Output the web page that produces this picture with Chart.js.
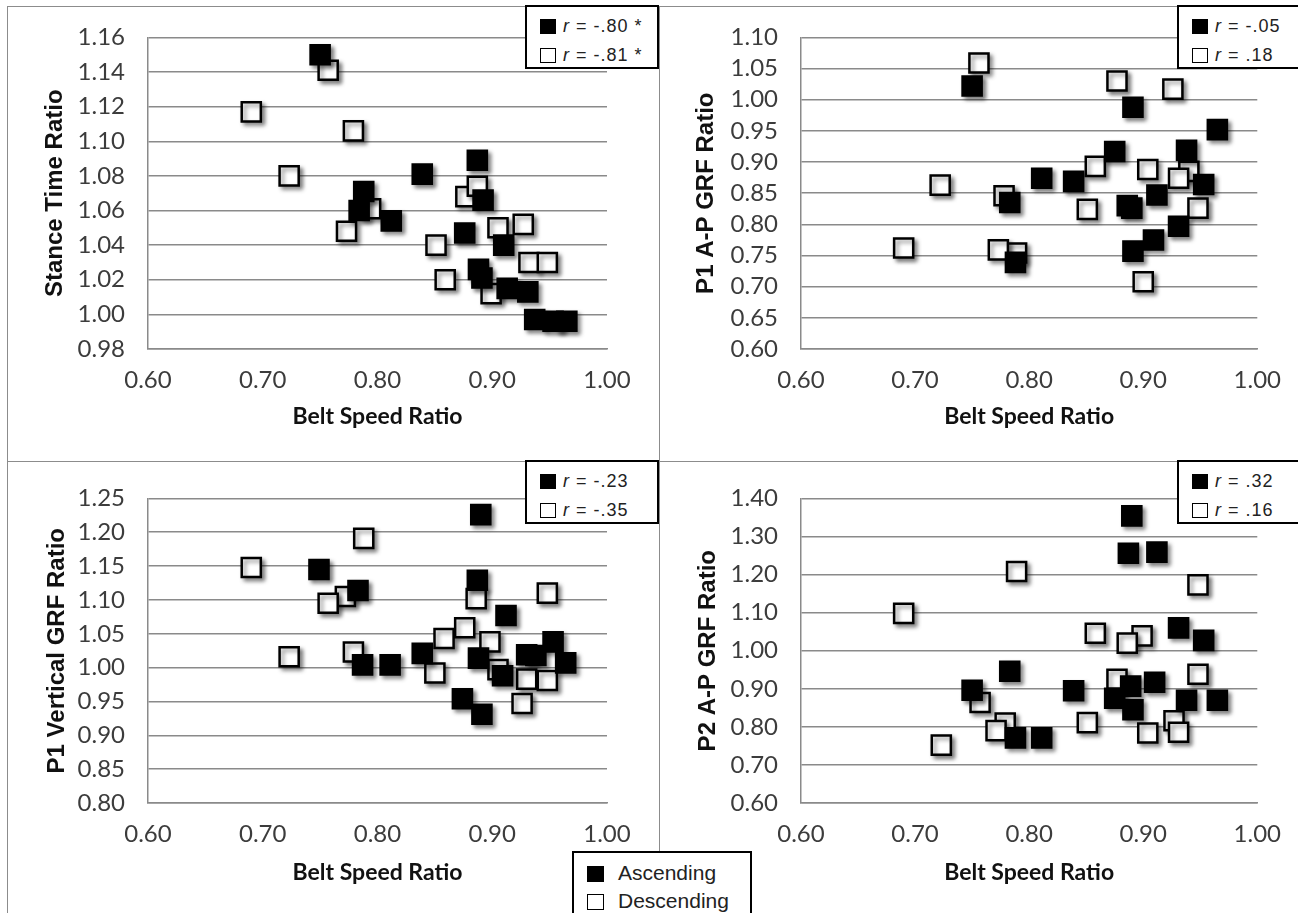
<!DOCTYPE html>
<html>
<head>
<meta charset="utf-8">
<title>Belt Speed Ratio</title>
<script src="https://cdn.jsdelivr.net/npm/chart.js@4.4.1/dist/chart.umd.min.js"></script>
<style>
    html, body { margin: 0; padding: 0; background: #fff; }
    #figure { position: relative; width: 1298px; height: 913px; overflow: hidden; background: #fff; }
    #figure canvas { position: absolute; }
    .rule { position: absolute; background: #8c8c8c; }
    .key {
        position: absolute; box-sizing: border-box; border: 2px solid #000; background: #fff;
        font-family: "Liberation Sans", Arial, sans-serif; color: #222;
    }
    .key .row { position: absolute; left: 13px; height: 22px; line-height: 22px; white-space: nowrap; }
    .key.small .row { font-size: 18px; letter-spacing: 1px; }
    .key.big .row { font-size: 21px; }
    .sw { display: inline-block; box-sizing: border-box; border: 1.5px solid #000; vertical-align: -2px; }
    .key.small .sw { width: 16px; height: 15px; margin-right: 7px; }
    .key.big .sw { width: 17px; height: 16px; margin-right: 14px; }
    .sw.fill { background: #000; }
    .sw.open { background: #fff; }
</style>
</head>
<body>
<div id="figure">
    <canvas id="stanceChart" width="659" height="461" style="left:0;top:0"></canvas>
    <canvas id="apOneChart" width="639" height="461" style="left:659px;top:0"></canvas>
    <canvas id="vertChart" width="659" height="452" style="left:0;top:461px"></canvas>
    <canvas id="apTwoChart" width="639" height="452" style="left:659px;top:461px"></canvas>

    <div class="rule" style="left:7px;top:6px;width:1291px;height:1px"></div>
    <div class="rule" style="left:7px;top:6px;width:1px;height:907px"></div>
    <div class="rule" style="left:659px;top:6px;width:1px;height:907px"></div>
    <div class="rule" style="left:7px;top:461px;width:1291px;height:1px"></div>
</div>

<script>
// ================= DATA =================
const seriesNames = ["Ascending", "Descending"];
const xTitle = "Belt Speed Ratio";
const xTicks = [0.60, 0.70, 0.80, 0.90, 1.00];

// Stance time
const stanceAscX  = [0.750, 0.788, 0.784, 0.812, 0.839, 0.887, 0.892, 0.876, 0.910, 0.888, 0.891, 0.913, 0.931, 0.937, 0.953, 0.965];
const stanceAscY  = [1.150, 1.071, 1.060, 1.054, 1.081, 1.089, 1.066, 1.047, 1.040, 1.026, 1.021, 1.015, 1.013, 0.997, 0.996, 0.996];
const stanceDescX = [0.690, 0.723, 0.757, 0.773, 0.779, 0.794, 0.851, 0.859, 0.877, 0.887, 0.899, 0.905, 0.927, 0.932, 0.948];
const stanceDescY = [1.117, 1.080, 1.141, 1.048, 1.106, 1.061, 1.040, 1.020, 1.068, 1.074, 1.012, 1.050, 1.052, 1.030, 1.030];
const stanceR = ["-.80 *", "-.81 *"];

// P1 A-P GRF
const apOneAscX  = [0.750, 0.891, 0.965, 0.875, 0.938, 0.811, 0.839, 0.953, 0.912, 0.886, 0.890, 0.783, 0.931, 0.909, 0.891, 0.788];
const apOneAscY  = [1.022, 0.988, 0.952, 0.917, 0.919, 0.874, 0.869, 0.864, 0.847, 0.830, 0.826, 0.835, 0.797, 0.775, 0.757, 0.739];
const apOneDescX = [0.690, 0.722, 0.756, 0.789, 0.773, 0.778, 0.851, 0.858, 0.877, 0.900, 0.904, 0.926, 0.940, 0.931, 0.948];
const apOneDescY = [0.762, 0.863, 1.059, 0.754, 0.759, 0.846, 0.824, 0.893, 1.030, 0.708, 0.888, 1.017, 0.885, 0.874, 0.826];
const apOneR = ["-.05", " .18"];

// P1 vertical GRF
const vertAscX  = [0.890, 0.749, 0.783, 0.887, 0.912, 0.839, 0.787, 0.811, 0.888, 0.909, 0.874, 0.891, 0.930, 0.938, 0.953, 0.964];
const vertAscY  = [1.226, 1.145, 1.114, 1.129, 1.077, 1.021, 1.004, 1.004, 1.014, 0.988, 0.954, 0.931, 1.019, 1.018, 1.038, 1.007];
const vertDescX = [0.690, 0.723, 0.772, 0.757, 0.779, 0.788, 0.850, 0.858, 0.876, 0.886, 0.898, 0.905, 0.926, 0.930, 0.948, 0.948];
const vertDescY = [1.148, 1.016, 1.105, 1.095, 1.023, 1.191, 0.992, 1.043, 1.059, 1.102, 1.038, 0.997, 0.947, 0.983, 0.981, 1.110];
const vertR = ["-.23", "-.35"];

// P2 A-P GRF
const apTwoAscX  = [0.890, 0.887, 0.912, 0.931, 0.953, 0.783, 0.750, 0.839, 0.889, 0.910, 0.875, 0.891, 0.938, 0.965, 0.788, 0.811];
const apTwoAscY  = [1.354, 1.256, 1.259, 1.060, 1.027, 0.946, 0.896, 0.895, 0.907, 0.917, 0.875, 0.845, 0.870, 0.870, 0.771, 0.771];
const apTwoDescX = [0.690, 0.723, 0.757, 0.779, 0.771, 0.789, 0.851, 0.858, 0.877, 0.899, 0.886, 0.904, 0.927, 0.931, 0.948, 0.948];
const apTwoDescY = [1.098, 0.752, 0.864, 0.810, 0.790, 1.208, 0.811, 1.046, 0.925, 1.039, 1.020, 0.784, 0.816, 0.786, 1.173, 0.938];
const apTwoR = [" .32", " .16"];

// ================= HELPERS =================
const GRID = "#8a8a8a";

function toPoints(xs, ys) {
    return xs.map((x, i) => ({ x: x, y: ys[i] }));
}

// soft drop shadow under the square markers
const markerShadow = {
    id: "markerShadow",
    beforeDatasetsDraw(chart) {
        const ctx = chart.ctx;
        ctx.save();
        ctx.shadowColor = "rgba(0,0,0,0.45)";
        ctx.shadowBlur = 4;
        ctx.shadowOffsetX = 3;
        ctx.shadowOffsetY = 3;
    },
    afterDatasetsDraw(chart) {
        chart.ctx.restore();
    }
};

function drawPanel(id, p) {
    const marker = {
        pointStyle: "rect",
        pointRadius: 13.5,
        pointHoverRadius: 13.5,
        borderColor: "#000",
        borderWidth: 2.5,
        clip: false
    };

    new Chart(document.getElementById(id), {
        type: "scatter",
        data: {
            datasets: [
                Object.assign({ label: seriesNames[0], data: toPoints(p.ascX, p.ascY), backgroundColor: "#000" }, marker),
                Object.assign({ label: seriesNames[1], data: toPoints(p.descX, p.descY), backgroundColor: "#fff" }, marker)
            ]
        },
        options: {
            responsive: false,
            animation: false,
            events: [],
            layout: { padding: { top: p.top, right: p.right, left: 0, bottom: 0 } },
            plugins: { legend: { display: false }, tooltip: { enabled: false } },
            scales: {
                x: {
                    type: "linear",
                    min: xTicks[0],
                    max: xTicks[xTicks.length - 1],
                    afterBuildTicks: axis => { axis.ticks = xTicks.map(v => ({ value: v })); },
                    ticks: {
                        autoSkip: false,
                        maxRotation: 0,
                        padding: 17,
                        color: "#3c3c3c",
                        font: { family: "Lato", size: 24 },
                        callback: v => Number(v).toFixed(2)
                    },
                    grid: { display: false, drawTicks: false },
                    border: { display: true, color: GRID, width: 1.5 },
                    title: {
                        display: true,
                        text: xTitle,
                        color: "#111",
                        font: { family: "Lato", size: 23, weight: "bold" },
                        padding: { top: 0, bottom: p.xTitlePad }
                    },
                    afterFit: axis => { axis.height = p.xAxisHeight; }
                },
                y: {
                    type: "linear",
                    min: p.yTicks[0],
                    max: p.yTicks[p.yTicks.length - 1],
                    afterBuildTicks: axis => { axis.ticks = p.yTicks.map(v => ({ value: v })); },
                    ticks: {
                        autoSkip: false,
                        padding: 23,
                        color: "#3c3c3c",
                        font: { family: "Lato", size: 24 },
                        callback: v => Number(v).toFixed(2)
                    },
                    grid: { color: GRID, lineWidth: 1.5, drawTicks: false },
                    border: { display: true, color: GRID, width: 1.5 },
                    title: {
                        display: true,
                        text: p.yTitle,
                        color: "#111",
                        font: { family: "Liberation Sans", size: 24, weight: "bold" },
                        padding: { top: p.yTitlePad, bottom: 0 }
                    },
                    afterFit: axis => { axis.width = p.yAxisWidth; }
                }
            }
        },
        plugins: [markerShadow]
    });
}

function addKey(left, top, width, values) {
    const box = document.createElement("div");
    box.className = "key small";
    box.style.cssText = `left:${left}px;top:${top}px;width:${width}px;height:64px`;
    box.innerHTML =
        `<div class="row" style="top:8px"><span class="sw fill"></span><i>r</i> = ${values[0]}</div>` +
        `<div class="row" style="top:37px"><span class="sw open"></span><i>r</i> = ${values[1]}</div>`;
    document.getElementById("figure").appendChild(box);
}

function addSeriesKey() {
    const box = document.createElement("div");
    box.className = "key big";
    box.style.cssText = "left:572px;top:851px;width:180px;height:66px";
    box.innerHTML =
        `<div class="row" style="top:9px"><span class="sw fill"></span>${seriesNames[0]}</div>` +
        `<div class="row" style="top:37px"><span class="sw open"></span>${seriesNames[1]}</div>`;
    document.getElementById("figure").appendChild(box);
}

// ================= PAGE LOAD =================
window.onload = function () {
    drawPanel("stanceChart", {
        ascX: stanceAscX, ascY: stanceAscY, descX: stanceDescX, descY: stanceDescY,
        yTicks: [0.98, 1.00, 1.02, 1.04, 1.06, 1.08, 1.10, 1.12, 1.14, 1.16],
        yTitle: "Stance Time Ratio",
        top: 32, right: 52, yAxisWidth: 148, xAxisHeight: 112, xTitlePad: 31, yTitlePad: 41
    });
    drawPanel("apOneChart", {
        ascX: apOneAscX, ascY: apOneAscY, descX: apOneDescX, descY: apOneDescY,
        yTicks: [0.60, 0.65, 0.70, 0.75, 0.80, 0.85, 0.90, 0.95, 1.00, 1.05, 1.10],
        yTitle: "P1 A-P GRF Ratio",
        top: 32, right: 38, yAxisWidth: 142, xAxisHeight: 112, xTitlePad: 31, yTitlePad: 33
    });
    drawPanel("vertChart", {
        ascX: vertAscX, ascY: vertAscY, descX: vertDescX, descY: vertDescY,
        yTicks: [0.80, 0.85, 0.90, 0.95, 1.00, 1.05, 1.10, 1.15, 1.20, 1.25],
        yTitle: "P1 Vertical GRF Ratio",
        top: 27, right: 52, yAxisWidth: 148, xAxisHeight: 110, xTitlePad: 27, yTitlePad: 43
    });
    drawPanel("apTwoChart", {
        ascX: apTwoAscX, ascY: apTwoAscY, descX: apTwoDescX, descY: apTwoDescY,
        yTicks: [0.60, 0.70, 0.80, 0.90, 1.00, 1.10, 1.20, 1.30, 1.40],
        yTitle: "P2 A-P GRF Ratio",
        top: 27, right: 38, yAxisWidth: 142, xAxisHeight: 110, xTitlePad: 27, yTitlePad: 35
    });

    addKey(525, 5, 134, stanceR);
    addKey(1177, 5, 125, apOneR);
    addKey(525, 460, 134, vertR);
    addKey(1177, 460, 125, apTwoR);
    addSeriesKey();
};
</script>
</body>
</html>
